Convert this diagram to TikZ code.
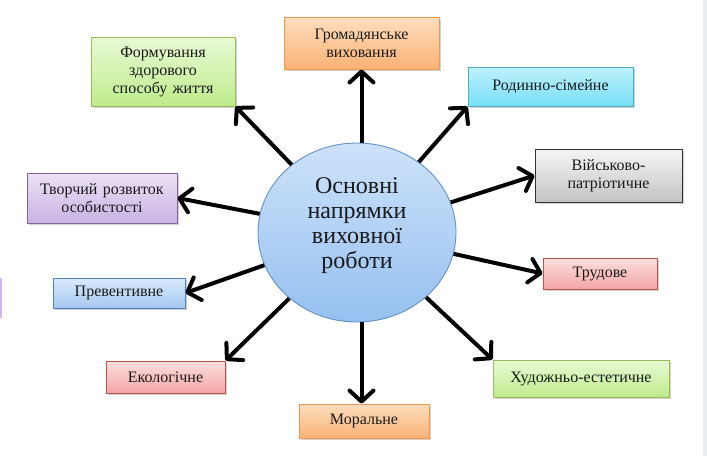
\documentclass[tikz,border=0pt]{standalone}
\usepackage{fontspec}
\setmainfont{Liberation Serif}
\newfontfamily\tnr{Liberation Serif}
\usetikzlibrary{arrows.meta,shapes.geometric,shadows}
\definecolor{txt}{HTML}{1A1A1A}
\definecolor{gD}{HTML}{9BBB59}\definecolor{gT}{HTML}{E8FAD4}\definecolor{gB}{HTML}{BEEB8C}
\definecolor{oD}{HTML}{F29650}\definecolor{oT}{HTML}{FDDEBE}\definecolor{oB}{HTML}{FAB276}
\definecolor{cD}{HTML}{4BACC6}\definecolor{cT}{HTML}{BEF2FC}\definecolor{cB}{HTML}{78DEF5}
\definecolor{kD}{HTML}{323232}\definecolor{kT}{HTML}{F5F5F5}\definecolor{kB}{HTML}{C3C3C3}
\definecolor{pD}{HTML}{8064A2}\definecolor{pT}{HTML}{ECE2F6}\definecolor{pB}{HTML}{C8B2E2}
\definecolor{bD}{HTML}{4F81BD}\definecolor{bT}{HTML}{DAEAFC}\definecolor{bB}{HTML}{A5C8F0}
\definecolor{rD}{HTML}{C0504D}\definecolor{rT}{HTML}{FDDEDE}\definecolor{rB}{HTML}{F4A6A6}
\definecolor{hD}{HTML}{6491C8}\definecolor{hT}{HTML}{CDE2FA}\definecolor{hB}{HTML}{96C0F0}
\definecolor{edgeP}{HTML}{CDB9EB}\definecolor{edgeR}{HTML}{E8EEF0}
\tikzset{
  box/.style={draw, line width=0.9pt, inner sep=0pt, align=center, text=txt,
     font=\tnr\fontsize{16}{18}\selectfont,
     drop shadow={shadow xshift=1.6pt, shadow yshift=-1.8pt, opacity=0.35, fill=gray}},
  gbox/.style={box, draw=gD, top color=gT, bottom color=gB},
  obox/.style={box, draw=oD, top color=oT, bottom color=oB},
  cbox/.style={box, draw=cD, top color=cT, bottom color=cB},
  kbox/.style={box, draw=kD, top color=kT, bottom color=kB},
  pbox/.style={box, draw=pD, top color=pT, bottom color=pB},
  bbox/.style={box, draw=bD, top color=bT, bottom color=bB},
  rbox/.style={box, draw=rD, top color=rT, bottom color=rB},
  hub/.style={ellipse, draw=hD, line width=0.9pt, inner sep=0pt,
     minimum width=198pt, minimum height=179pt, align=center, text=txt,
     top color=hT, bottom color=hB,
     font=\tnr\fontsize{24}{25}\selectfont},
  arr/.style={line width=4pt, -{Straight Barb[length=11pt,width=24pt,round]}},
}
\begin{document}
\begin{tikzpicture}[x=1pt,y=-1pt]
\useasboundingbox (0,0) rectangle (707,456);
\fill[white] (0,0) rectangle (707,456);
\fill[edgeP] (0,278) rectangle (2,318);
\fill[edgeR] (703,0) rectangle (707,456);

\node[hub] (c) at (357,232.5) {Основні\\напрямки\\виховної\\роботи\\[-6pt]};

\node[gbox, minimum width=144pt, minimum height=69pt, text width=140pt] (f) at (163,71.5) {Формування\\здорового\\способу життя};
\node[pbox, minimum width=150pt, minimum height=50pt, text width=146pt] (tv) at (102,198) {Творчий розвиток\\особистості};
\node[obox, minimum width=155pt, minimum height=52pt, text width=151pt] (g) at (361.5,43) {Громадянське\\виховання};
\node[cbox, minimum width=165pt, minimum height=39pt, text width=161pt] (r) at (550.5,86.5) {Родинно-сімейне};
\node[kbox, minimum width=147pt, minimum height=53pt, text width=143pt] (v) at (608.5,175.5) {Військово-\\патріотичне};
\node[bbox, minimum width=132pt, minimum height=30pt, text width=128pt] (p) at (119,293) {Превентивне};
\node[rbox, minimum width=119pt, minimum height=32pt, text width=115pt] (e) at (165.5,377) {Екологічне};
\node[obox, minimum width=130pt, minimum height=34pt, text width=126pt] (m) at (364,421) {Моральне};
\node[rbox, minimum width=114pt, minimum height=31pt, text width=110pt] (tr) at (600,273.5) {Трудове};
\node[gbox, minimum width=176pt, minimum height=37pt, text width=172pt] (h) at (581,378.5) {Художньо-естетичне};

\draw[arr] (c) -- (f.south east);
\draw[arr] (c) -- (tv.east);
\draw[arr] (c.north -| g.south) -- (g.south);
\draw[arr] (c) -- (r.south west);
\draw[arr] (c) -- (v.west);
\draw[arr] (c) -- (p.east);
\draw[arr] (c) -- (e.north east);
\draw[arr] (c.south -| g.south) -- (m.north -| g.south);
\draw[arr] (c) -- (tr.west);
\draw[arr] (c) -- (h.north west);
\end{tikzpicture}
\end{document}
